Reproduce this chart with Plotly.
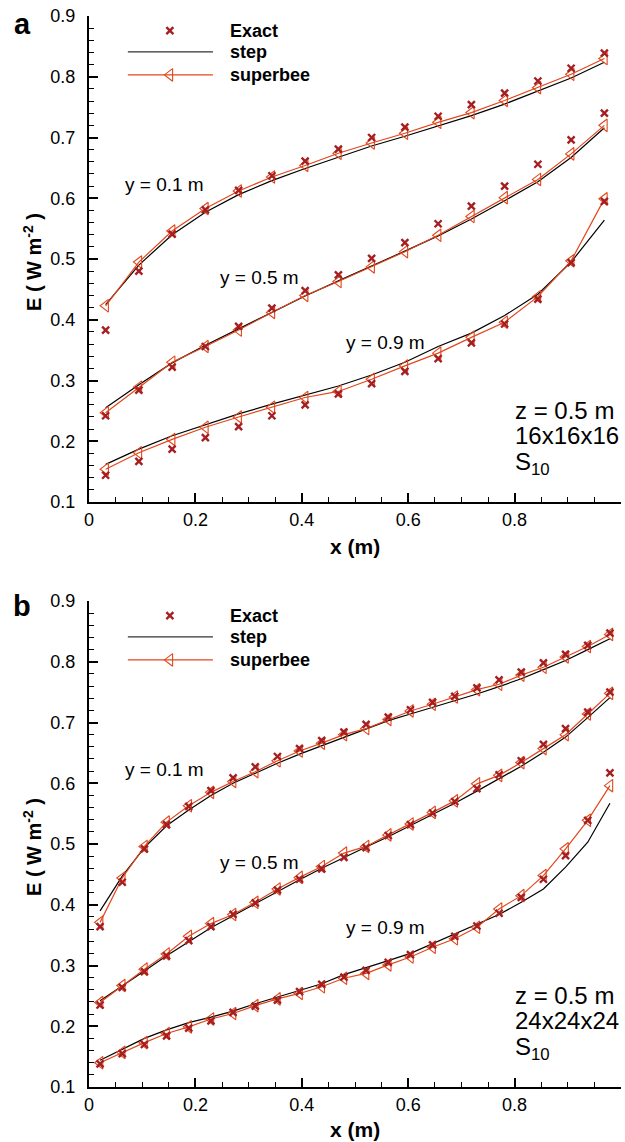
import plotly.graph_objects as go

# ---------------- data ----------------
# cell-centre positions (m)
x_16 = [0.03125, 0.09375, 0.15625, 0.21875, 0.28125, 0.34375, 0.40625, 0.46875,
        0.53125, 0.59375, 0.65625, 0.71875, 0.78125, 0.84375, 0.90625, 0.96875]
x_24 = [0.0208, 0.0625, 0.1042, 0.1458, 0.1875, 0.2292, 0.2708, 0.3125,
        0.3542, 0.3958, 0.4375, 0.4792, 0.5208, 0.5625, 0.6042, 0.6458,
        0.6875, 0.7292, 0.7708, 0.8125, 0.8542, 0.8958, 0.9375, 0.9792]

# panel a: 16x16x16 mesh
exact_a_01 = [0.383, 0.480, 0.541, 0.581, 0.613, 0.637, 0.661, 0.681, 0.700, 0.717, 0.735, 0.754, 0.773, 0.793, 0.814, 0.839]
super_a_01 = [0.423, 0.495, 0.546, 0.583, 0.612, 0.635, 0.654, 0.674, 0.691, 0.707, 0.725, 0.741, 0.761, 0.782, 0.804, 0.830]
step_a_01 = [0.425, 0.490, 0.540, 0.577, 0.606, 0.629, 0.649, 0.668, 0.686, 0.702, 0.719, 0.736, 0.755, 0.776, 0.798, 0.824]

exact_a_05 = [0.242, 0.284, 0.322, 0.356, 0.389, 0.419, 0.448, 0.474, 0.501, 0.527, 0.558, 0.587, 0.620, 0.656, 0.696, 0.740]
super_a_05 = [0.247, 0.289, 0.330, 0.356, 0.383, 0.412, 0.440, 0.463, 0.487, 0.512, 0.539, 0.570, 0.601, 0.631, 0.673, 0.720]
step_a_05 = [0.255, 0.293, 0.329, 0.358, 0.385, 0.412, 0.439, 0.464, 0.488, 0.513, 0.538, 0.566, 0.596, 0.627, 0.667, 0.716]

exact_a_09 = [0.144, 0.167, 0.187, 0.206, 0.224, 0.242, 0.260, 0.278, 0.295, 0.315, 0.336, 0.362, 0.393, 0.434, 0.494, 0.595]
super_a_09 = [0.154, 0.181, 0.203, 0.223, 0.240, 0.256, 0.272, 0.282, 0.302, 0.324, 0.345, 0.371, 0.396, 0.438, 0.497, 0.599]
step_a_09 = [0.162, 0.187, 0.209, 0.227, 0.245, 0.261, 0.276, 0.291, 0.309, 0.330, 0.356, 0.378, 0.407, 0.442, 0.495, 0.564]

# panel b: 24x24x24 mesh
exact_b_01 = [0.364, 0.437, 0.492, 0.532, 0.562, 0.588, 0.609, 0.627, 0.644, 0.657, 0.670, 0.684,
              0.697, 0.709, 0.721, 0.733, 0.743, 0.757, 0.770, 0.783, 0.798, 0.812, 0.827, 0.847]
super_b_01 = [0.371, 0.444, 0.496, 0.536, 0.563, 0.585, 0.603, 0.619, 0.637, 0.653, 0.666, 0.680,
              0.690, 0.705, 0.719, 0.730, 0.742, 0.754, 0.763, 0.778, 0.791, 0.808, 0.825, 0.845]
step_b_01 = [0.390, 0.447, 0.494, 0.530, 0.556, 0.580, 0.600, 0.617, 0.633, 0.648, 0.662, 0.676,
             0.690, 0.703, 0.714, 0.725, 0.735, 0.747, 0.759, 0.772, 0.787, 0.802, 0.820, 0.838]

exact_b_05 = [0.235, 0.264, 0.290, 0.316, 0.341, 0.364, 0.384, 0.403, 0.424, 0.442, 0.459, 0.478,
              0.494, 0.514, 0.532, 0.551, 0.570, 0.591, 0.614, 0.637, 0.664, 0.690, 0.717, 0.750]
super_b_05 = [0.239, 0.267, 0.294, 0.319, 0.348, 0.369, 0.384, 0.404, 0.426, 0.445, 0.463, 0.485,
              0.496, 0.515, 0.533, 0.552, 0.571, 0.599, 0.613, 0.634, 0.657, 0.680, 0.714, 0.748]
step_b_05 = [0.242, 0.266, 0.291, 0.316, 0.339, 0.362, 0.382, 0.402, 0.422, 0.441, 0.460, 0.478,
             0.495, 0.512, 0.530, 0.549, 0.567, 0.587, 0.607, 0.628, 0.651, 0.676, 0.708, 0.741]

exact_b_09 = [0.138, 0.155, 0.170, 0.184, 0.197, 0.209, 0.223, 0.233, 0.243, 0.257, 0.269, 0.281,
              0.292, 0.305, 0.318, 0.334, 0.348, 0.365, 0.386, 0.412, 0.442, 0.481, 0.539, 0.617]
super_b_09 = [0.140, 0.157, 0.173, 0.188, 0.199, 0.212, 0.221, 0.234, 0.245, 0.254, 0.265, 0.279,
              0.287, 0.301, 0.314, 0.330, 0.344, 0.363, 0.393, 0.415, 0.448, 0.492, 0.539, 0.596]
step_b_09 = [0.144, 0.162, 0.180, 0.194, 0.206, 0.215, 0.225, 0.237, 0.248, 0.258, 0.270, 0.285,
             0.296, 0.308, 0.320, 0.336, 0.352, 0.368, 0.384, 0.404, 0.426, 0.462, 0.503, 0.567]

series_labels = ["Exact", "step", "superbee"]
curve_labels = ["y = 0.1 m", "y = 0.5 m", "y = 0.9 m"]
mesh_labels = ["16x16x16", "24x24x24"]
panel_letters = ["a", "b"]

# ---------------- style ----------------
FONT = "Liberation Sans, Arial, sans-serif"
EXACT_COLOR = "#A51F22"
SUPER_COLOR = "#E2471B"
STEP_COLOR = "#000000"

W, H = 625, 1142
ML, MR, MT, MB = 89, 4, 16, 55

panels = [
    dict(x=x_16, data=[(exact_a_01, super_a_01, step_a_01),
                       (exact_a_05, super_a_05, step_a_05),
                       (exact_a_09, super_a_09, step_a_09)]),
    dict(x=x_24, data=[(exact_b_01, super_b_01, step_b_01),
                       (exact_b_05, super_b_05, step_b_05),
                       (exact_b_09, super_b_09, step_b_09)]),
]

fig = go.Figure()

for p, panel in enumerate(panels):
    xa = "x" if p == 0 else "x2"
    ya = "y" if p == 0 else "y2"
    xs = panel["x"]
    for exact, sup, step in panel["data"]:
        fig.add_trace(go.Scatter(x=xs, y=step, mode="lines", xaxis=xa, yaxis=ya,
                                 line=dict(color=STEP_COLOR, width=1.2), showlegend=False))
        fig.add_trace(go.Scatter(x=xs, y=sup, mode="lines+markers", xaxis=xa, yaxis=ya,
                                 line=dict(color=SUPER_COLOR, width=1.2),
                                 marker=dict(symbol="triangle-left-open", size=11,
                                             color=SUPER_COLOR, line=dict(width=1.1)),
                                 showlegend=False))
        fig.add_trace(go.Scatter(x=xs, y=exact, mode="markers", xaxis=xa, yaxis=ya,
                                 marker=dict(symbol="x-thin", size=7, color=EXACT_COLOR,
                                             line=dict(width=2.4, color=EXACT_COLOR)),
                                 showlegend=False))

    # in-plot key (data coordinates of each panel)
    key_y = [0.876, 0.841, 0.803]
    key_x0, key_x1, key_xm, key_xt = 0.073, 0.233, 0.152, 0.261
    fig.add_trace(go.Scatter(x=[key_xm], y=[key_y[0]], mode="markers", xaxis=xa, yaxis=ya,
                             marker=dict(symbol="x-thin", size=7, color=EXACT_COLOR,
                                         line=dict(width=2.4, color=EXACT_COLOR)),
                             showlegend=False))
    fig.add_trace(go.Scatter(x=[key_x0, key_x1], y=[key_y[1], key_y[1]], mode="lines",
                             xaxis=xa, yaxis=ya, line=dict(color="#333333", width=1.4),
                             showlegend=False))
    fig.add_trace(go.Scatter(x=[key_x0, key_xm, key_x1], y=[key_y[2]] * 3, mode="lines",
                             xaxis=xa, yaxis=ya, line=dict(color=SUPER_COLOR, width=1.2),
                             showlegend=False))
    fig.add_trace(go.Scatter(x=[key_xm], y=[key_y[2]], mode="markers", xaxis=xa, yaxis=ya,
                             marker=dict(symbol="triangle-left-open", size=11, color=SUPER_COLOR,
                                         line=dict(width=1.1)),
                             showlegend=False))
    for lbl, ky in zip(series_labels, key_y):
        fig.add_annotation(x=key_xt, y=ky, xref=xa, yref=ya, text="<b>%s</b>" % lbl,
                           showarrow=False, xanchor="left", yanchor="middle",
                           font=dict(family=FONT, size=18, color="black"))

    # curve labels
    for lbl, (cx, cy) in zip(curve_labels, [(0.0647, 0.623), (0.2425, 0.470), (0.479, 0.363)]):
        fig.add_annotation(x=cx, y=cy, xref=xa, yref=ya, text=lbl, showarrow=False,
                           xanchor="left", yanchor="middle",
                           font=dict(family=FONT, size=19, color="black"))

    # case description
    fig.add_annotation(x=0.797, y=0.250, xref=xa, yref=ya, text="z = 0.5 m", showarrow=False,
                       xanchor="left", yanchor="middle",
                       font=dict(family=FONT, size=24, color="black"))
    fig.add_annotation(x=0.797, y=0.209, xref=xa, yref=ya, text=mesh_labels[p], showarrow=False,
                       xanchor="left", yanchor="middle",
                       font=dict(family=FONT, size=24, color="black"))
    fig.add_annotation(x=0.797, y=0.192, xref=xa, yref=ya, text="S<sub>10</sub>",
                       showarrow=False, xanchor="left", yanchor="top",
                       font=dict(family=FONT, size=24, color="black"))

# ---------------- axes ----------------
plot_h = H - MT - MB
dom_b = [0, (1087 - 601) / plot_h]
dom_a = [(1087 - 502) / plot_h, 1]

axis_common = dict(showline=True, linecolor="black", linewidth=2, mirror=False,
                   ticks="inside", ticklen=9, tickwidth=2, tickcolor="black",
                   showgrid=False, zeroline=False, automargin=False,
                   tickfont=dict(family=FONT, size=18, color="black"))

xcfg = dict(axis_common, range=[0, 1], tick0=0, dtick=0.2,
            minor=dict(dtick=0.05, ticks="inside", ticklen=5, tickwidth=1.2, tickcolor="black"))
ycfg = dict(axis_common, range=[0.1, 0.9], tick0=0.1, dtick=0.1, tickformat=".1f",
            ticklabelstandoff=8,
            minor=dict(dtick=0.02, ticks="inside", ticklen=5, tickwidth=1.2, tickcolor="black"))

fig.update_layout(
    width=W, height=H,
    margin=dict(l=ML, r=MR, t=MT, b=MB),
    paper_bgcolor="white", plot_bgcolor="white",
    showlegend=False,
    xaxis=dict(xcfg, domain=[0, 1], anchor="y"),
    yaxis=dict(ycfg, domain=dom_a, anchor="x"),
    xaxis2=dict(xcfg, domain=[0, 1], anchor="y2"),
    yaxis2=dict(ycfg, domain=dom_b, anchor="x2"),
)

# axis titles and panel letters (paper coordinates)
def px_x(px):
    return (px - ML) / (W - ML - MR)

def px_y(py):
    return (H - MB - py) / plot_h

for (xt_y, yt_y, letter_y), letter in zip([(546, 262, 24), (1129, 847, 606)], panel_letters):
    fig.add_annotation(x=0.5, y=px_y(xt_y), xref="paper", yref="paper",
                       text="<b>x (m)</b>", showarrow=False, xanchor="center", yanchor="middle",
                       font=dict(family=FONT, size=21, color="black"))
    fig.add_annotation(x=px_x(32), y=px_y(yt_y), xref="paper", yref="paper",
                       text="<b>E ( W m<sup>-2</sup> )</b>", textangle=-90, showarrow=False,
                       xanchor="center", yanchor="middle",
                       font=dict(family=FONT, size=20, color="black"))
    fig.add_annotation(x=px_x(22), y=px_y(letter_y), xref="paper", yref="paper",
                       text="<b>%s</b>" % letter, showarrow=False, xanchor="center",
                       yanchor="middle", font=dict(family=FONT, size=29, color="black"))

fig.write_html("out.html")
